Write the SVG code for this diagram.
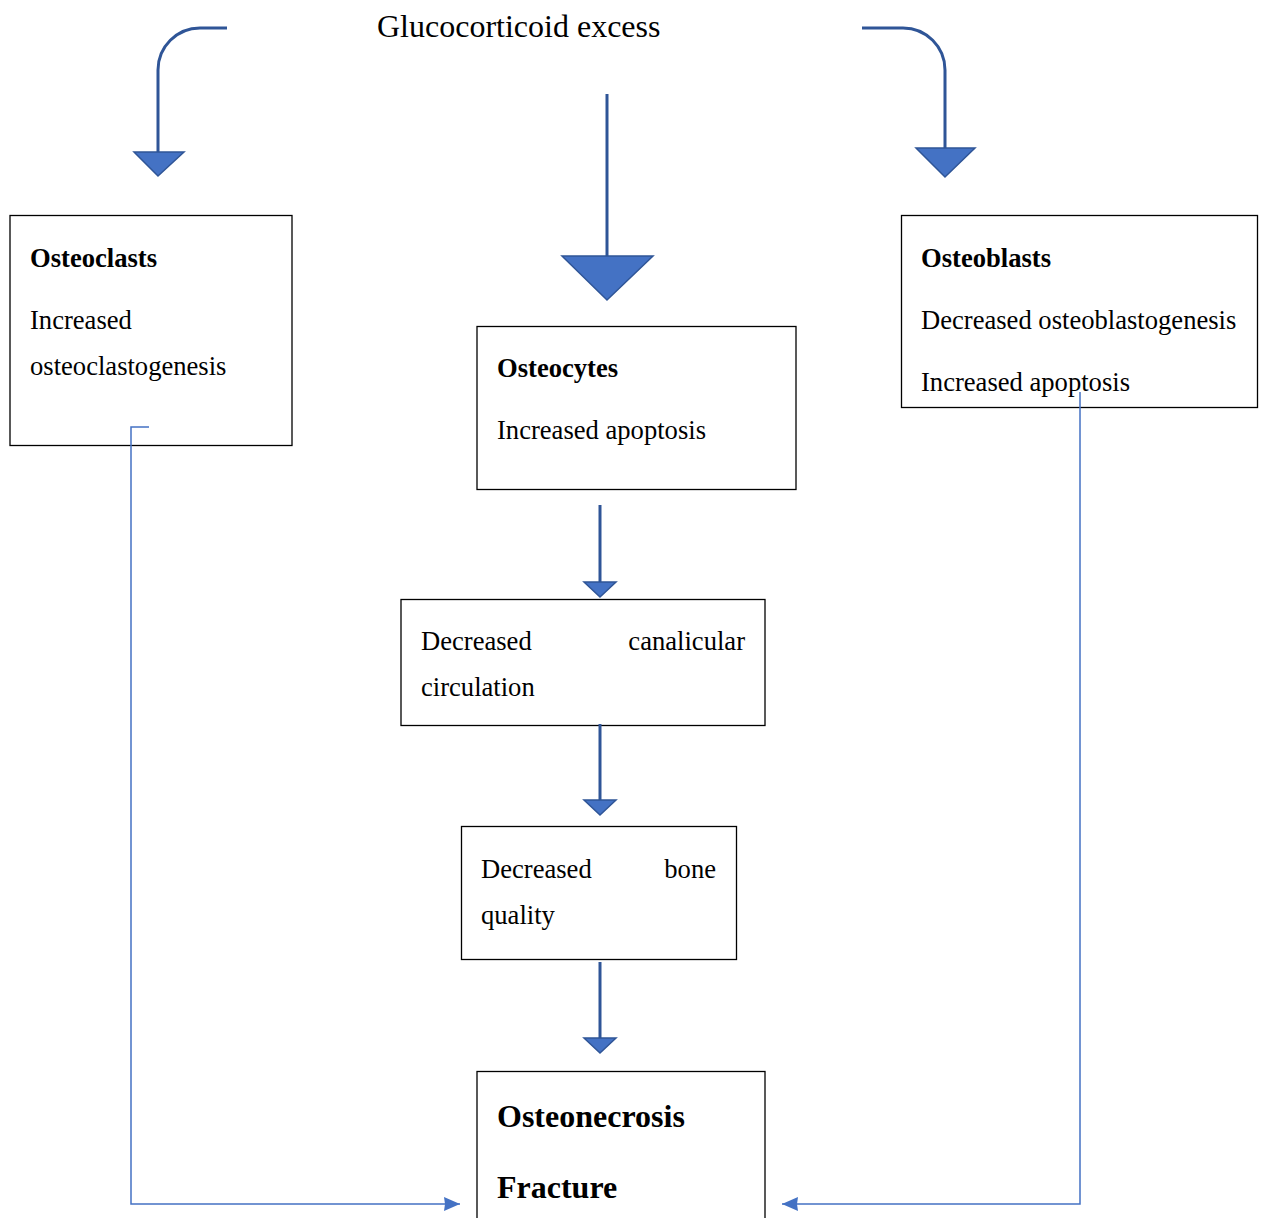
<svg xmlns="http://www.w3.org/2000/svg" width="1264" height="1218" viewBox="0 0 1264 1218">
<defs>
<style>
.box{fill:none;stroke:#000;stroke-width:1.3}
.t{font-family:"Liberation Serif","Times New Roman",serif;font-size:26.6px;fill:#000}
.b{font-weight:bold}
.big{font-family:"Liberation Serif","Times New Roman",serif;font-size:32px;font-weight:bold;fill:#000}
.thick{fill:none;stroke:#2F5597;stroke-width:3}
.head{fill:#4472C4;stroke:#2F5597;stroke-width:1.5;stroke-linejoin:miter}
.thin{fill:none;stroke:#4472C4;stroke-width:1.5}
</style>
<marker id="ah" markerWidth="18" markerHeight="16" refX="16" refY="8" orient="auto" markerUnits="userSpaceOnUse">
<path d="M0,1 L16,8 L0,15 L1,8 Z" fill="#4472C4"/>
</marker>
</defs>
<rect width="1264" height="1218" fill="#fff"/>
<g id="title"><text x="377" y="37" style="font-family:'Liberation Serif','Times New Roman',serif;font-size:32px;fill:#000">Glucocorticoid excess</text></g>
<g id="osteoclasts">
<rect class="box" x="10" y="215.5" width="282" height="230"/>
<text class="t b" x="30" y="267">Osteoclasts</text>
<text class="t" x="30" y="329">Increased</text>
<text class="t" x="30" y="375">osteoclastogenesis</text>
</g>
<g id="osteocytes">
<rect class="box" x="477" y="326.5" width="319" height="163"/>
<text class="t b" x="497" y="377">Osteocytes</text>
<text class="t" x="497" y="439">Increased apoptosis</text>
</g>
<g id="osteoblasts">
<rect class="box" x="901.5" y="215.5" width="356" height="192"/>
<text class="t b" x="921" y="267">Osteoblasts</text>
<text class="t" x="921" y="329">Decreased osteoblastogenesis</text>
<text class="t" x="921" y="391">Increased apoptosis</text>
</g>
<g id="canalicular">
<rect class="box" x="401" y="599.5" width="364" height="126"/>
<text class="t" x="421" y="650">Decreased</text>
<text class="t" x="745" y="650" text-anchor="end">canalicular</text>
<text class="t" x="421" y="696">circulation</text>
</g>
<g id="bonequality">
<rect class="box" x="461.5" y="826.5" width="275" height="133"/>
<text class="t" x="481" y="878">Decreased</text>
<text class="t" x="716" y="878" text-anchor="end">bone</text>
<text class="t" x="481" y="924">quality</text>
</g>
<g id="outcome">
<rect class="box" x="477" y="1071.5" width="288" height="160"/>
<text class="big" x="497" y="1127">Osteonecrosis</text>
<text class="big" x="497" y="1198">Fracture</text>
</g>
<g id="connectors">
<path class="thick" d="M227,28 L200,28 A42,42 0 0 0 158,70 L158,153"/>
<polygon class="head" points="134,152 184,152 158,176"/>
<path class="thick" d="M862,28 L903,28 A42,42 0 0 1 945,70 L945,149"/>
<polygon class="head" points="916,148 975,148 945,177"/>
<path class="thick" d="M607,94 L607,257"/>
<polygon class="head" points="562,256 653,256 607,300"/>
<path class="thick" d="M600,505 L600,583"/>
<polygon class="head" points="584,582 616,582 600,597"/>
<path class="thick" d="M600,724 L600,801"/>
<polygon class="head" points="584,800 616,800 600,815"/>
<path class="thick" d="M600,962 L600,1039"/>
<polygon class="head" points="584,1038 616,1038 600,1053"/>
<path class="thin" d="M149,427 L131,427 L131,1204 L460,1204" marker-end="url(#ah)"/>
<path class="thin" d="M1080,392 L1080,1204 L782,1204" marker-end="url(#ah)"/>
</g>
</svg>
